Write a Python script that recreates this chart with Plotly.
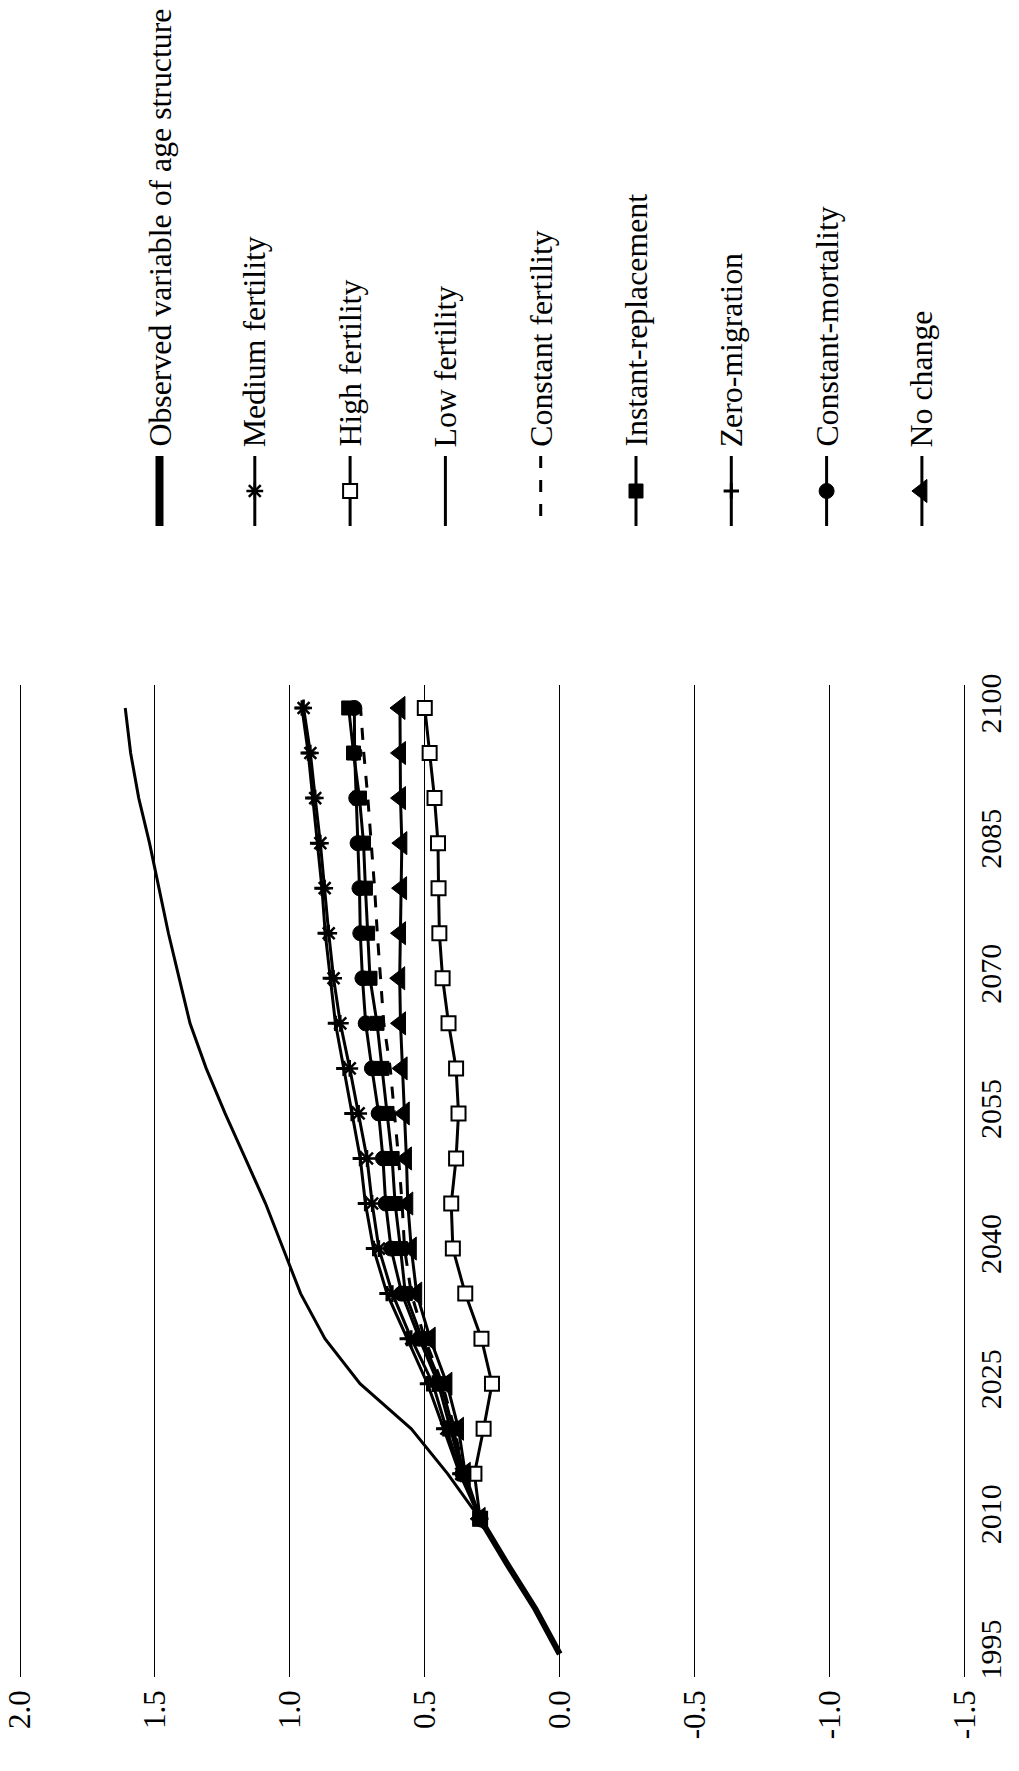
import plotly.graph_objects as go

# page is shown with the browser's default 8px body margin, so lay out in
# page pixels and shift by that offset
PAGE_W, PAGE_H = 1019, 1771
OFF = 8
W, H = PAGE_W - OFF, PAGE_H - OFF

# ---------------- data ----------------
years_obs = [1995, 2000, 2005, 2010]
observed = [0.0, 0.09, 0.195, 0.295]

years_proj = [2010, 2015, 2020, 2025, 2030, 2035, 2040, 2045, 2050, 2055,
              2060, 2065, 2070, 2075, 2080, 2085, 2090, 2095, 2100]
medium_fertility = [0.295, 0.365, 0.42, 0.47, 0.55, 0.62, 0.67, 0.695, 0.714, 0.745,
                    0.778, 0.813, 0.838, 0.856, 0.871, 0.887, 0.906, 0.924, 0.949]
high_fertility = [0.295, 0.316, 0.282, 0.251, 0.29, 0.35, 0.396, 0.402, 0.384, 0.375,
                  0.384, 0.412, 0.434, 0.446, 0.449, 0.451, 0.464, 0.482, 0.50]
low_fertility = [0.295, 0.415, 0.55, 0.74, 0.87, 0.96, 1.025, 1.09, 1.165, 1.24,
                 1.31, 1.37, 1.41, 1.45, 1.485, 1.52, 1.56, 1.59, 1.61]
constant_fertility = [0.295, 0.355, 0.39, 0.435, 0.50, 0.55, 0.575, 0.584, 0.597, 0.612,
                      0.628, 0.652, 0.665, 0.676, 0.686, 0.698, 0.711, 0.726, 0.738]
instant_replacement = [0.295, 0.355, 0.395, 0.44, 0.51, 0.572, 0.59, 0.61, 0.621, 0.64,
                       0.659, 0.677, 0.703, 0.712, 0.72, 0.727, 0.742, 0.764, 0.782]
zero_migration = [0.295, 0.37, 0.43, 0.49, 0.565, 0.64, 0.69, 0.72, 0.739, 0.77,
                  0.80, 0.831, 0.85, 0.869, 0.881, 0.897, 0.915, 0.932, 0.955]
constant_mortality = [0.295, 0.36, 0.405, 0.45, 0.52, 0.585, 0.625, 0.645, 0.655, 0.671,
                      0.696, 0.719, 0.731, 0.739, 0.742, 0.749, 0.754, 0.76, 0.761]
no_change = [0.295, 0.35, 0.375, 0.418, 0.48, 0.53, 0.55, 0.563, 0.568, 0.576,
             0.584, 0.59, 0.593, 0.59, 0.586, 0.585, 0.59, 0.59, 0.592]

value_ticks = [2.0, 1.5, 1.0, 0.5, 0.0, -0.5, -1.0, -1.5]
value_tick_text = ["2.0", "1.5", "1.0", "0.5", "0.0", "-0.5", "-1.0", "-1.5"]
year_ticks = [1995, 2010, 2025, 2040, 2055, 2070, 2085, 2100]

legend_names = ["Observed variable of age structure", "Medium fertility", "High fertility",
                "Low fertility", "Constant fertility", "Instant-replacement",
                "Zero-migration", "Constant-mortality", "No change"]

# ---------------- styles ----------------
FONT = "Liberation Serif"
BLK = "black"

styles = [
    dict(width=6, dash="solid", symbol=None),
    dict(width=3, dash="solid", symbol="asterisk-open", size=14, mcolor=BLK, mlw=2.5),
    dict(width=3, dash="solid", symbol="square", size=14, mcolor="white", mlw=2),
    dict(width=3, dash="solid", symbol=None),
    dict(width=3, dash="12px,12px", symbol=None),
    dict(width=3, dash="solid", symbol="square", size=14, mcolor=BLK, mlw=1),
    dict(width=3, dash="solid", symbol="cross-thin-open", size=11, mcolor=BLK, mlw=3),
    dict(width=3, dash="solid", symbol="circle", size=15, mcolor=BLK, mlw=1),
    dict(width=3, dash="solid", symbol="triangle-left", size=20, mcolor=BLK, mlw=1),
]

series_x = [observed, medium_fertility, high_fertility, low_fertility, constant_fertility,
            instant_replacement, zero_migration, constant_mortality, no_change]
series_y = [years_obs] + [years_proj] * 8


def fx(px):
    """page x pixel -> figure x pixel"""
    return px - OFF


def fy(py):
    return py - OFF


fig = go.Figure()

for name, xs, ys, st in zip(legend_names, series_x, series_y, styles):
    kw = {}
    if st["symbol"]:
        mode = "lines+markers"
        kw["marker"] = dict(symbol=st["symbol"], size=st["size"], color=st["mcolor"],
                            line=dict(color=BLK, width=st["mlw"]))
    else:
        mode = "lines"
    fig.add_trace(go.Scatter(x=xs, y=ys, mode=mode, name=name, showlegend=False,
                             line=dict(color=BLK, width=st["width"], dash=st["dash"]),
                             xaxis="x", yaxis="y", **kw))

# ---------------- manual rotated legend (pixel frame on x2/y2) ----------------
leg_x0, leg_dx = 159.5, 95.3
leg_line_top, leg_line_bot, leg_mark = 456, 526, 491
leg_text_bottom = 449

for i, (name, st) in enumerate(zip(legend_names, styles)):
    lx = fx(leg_x0 + leg_dx * i)
    lw = 8 if i == 0 else st["width"]
    fig.add_trace(go.Scatter(x=[lx, lx], y=[fy(leg_line_top), fy(leg_line_bot)], mode="lines",
                             line=dict(color=BLK, width=lw, dash=st["dash"]),
                             showlegend=False, hoverinfo="skip", xaxis="x2", yaxis="y2"))
    if st["symbol"]:
        fig.add_trace(go.Scatter(x=[lx], y=[fy(leg_mark)], mode="markers",
                                 marker=dict(symbol=st["symbol"], size=st["size"],
                                             color=st["mcolor"],
                                             line=dict(color=BLK, width=st["mlw"])),
                                 showlegend=False, hoverinfo="skip", xaxis="x2", yaxis="y2"))
    fig.add_annotation(x=lx / W, y=1 - fy(leg_text_bottom) / H, xref="paper", yref="paper",
                       text=name, showarrow=False, textangle=-90,
                       xanchor="center", yanchor="bottom",
                       font=dict(family=FONT, size=31.8, color=BLK))

# ---------------- axes ----------------
px_per_unit = 270.0
pad_px = 5
x_left_px, x_right_px = fx(20 - pad_px), fx(964.5 + pad_px)
y_top_px, y_bot_px = fy(685), fy(1677)

fig.update_layout(
    width=W, height=H,
    template="none",
    margin=dict(l=0, r=0, t=0, b=0),
    paper_bgcolor="white",
    plot_bgcolor="rgba(0,0,0,0)",
    font=dict(family=FONT, color=BLK, size=30),
    showlegend=False,
    xaxis=dict(
        domain=[x_left_px / W, x_right_px / W],
        range=[2.0 + pad_px / px_per_unit, -1.5 - pad_px / px_per_unit],
        tickmode="array", tickvals=value_ticks, ticktext=value_tick_text,
        tickangle=-90, ticks="", showline=False, zeroline=False,
        showgrid=True, gridcolor=BLK, gridwidth=1.3,
        tickfont=dict(family=FONT, size=31, color=BLK),
        automargin=False, anchor="y", ticklabelstandoff=6,
        ticklabeloverflow="allow",
    ),
    yaxis=dict(
        domain=[1 - y_bot_px / H, 1 - y_top_px / H],
        range=[1992.45, 2102.55],
        side="right", tickmode="array", tickvals=year_ticks,
        tickangle=-90, ticks="", showline=False, zeroline=False, showgrid=False,
        tickfont=dict(family=FONT, size=30, color=BLK),
        automargin=False, anchor="x", ticklabelstandoff=0,
        ticklabeloverflow="allow",
    ),
    xaxis2=dict(domain=[0, 1], range=[0, W], visible=False, anchor="y2",
                fixedrange=True, automargin=False),
    yaxis2=dict(domain=[0, 1], range=[H, 0], visible=False, anchor="x2",
                fixedrange=True, automargin=False),
)

fig.write_html("out.html")
